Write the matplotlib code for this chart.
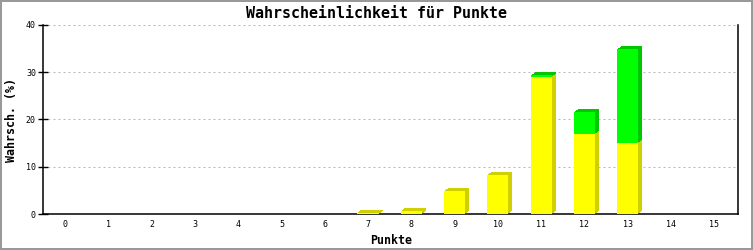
import numpy as np
import matplotlib
matplotlib.use('Agg')
import matplotlib.pyplot as plt
import matplotlib.transforms as mtrans

points = list(range(16))
yellow = [0, 0, 0, 0, 0, 0, 0, 0.3, 0.7, 4.9, 8.3, 29.0, 16.9, 15.0, 0, 0]
green = [0, 0, 0, 0, 0, 0, 0, 0, 0, 0, 0, 0.4, 4.7, 19.9, 0, 0]
yticks = [0, 10, 20, 30, 40]

MONO = 'DejaVu Sans Mono'

fig = plt.figure(figsize=(7.53, 2.5), dpi=100)
fig.patch.set_facecolor('white')
fig.patch.set_edgecolor('#999999')
fig.patch.set_linewidth(1.6)
ax = fig.add_axes([43 / 753, 1 - 214 / 250, (738.5 - 43) / 753, (214 - 25) / 250])

x = np.array(points)
yel = np.array(yellow)
grn = np.array(green)
w = 0.49

# 3D look: darker copies stepped right/up behind the front faces
for k in [4, 3, 2, 1]:
    shift = ax.transData + mtrans.ScaledTranslation(k / 100, 0.75 * k / 100, fig.dpi_scale_trans)
    ax.bar(x, yel, w, color='#d0d000', linewidth=0, transform=shift, zorder=2)
    ax.bar(x, grn, w, bottom=yel, color='#00c800', linewidth=0, transform=shift, zorder=2)
ax.bar(x, yel, w, color='#ffff00', linewidth=0, zorder=3)
ax.bar(x, grn, w, bottom=yel, color='#00ff00', linewidth=0, zorder=3)

ax.set_xlim(-0.51, 15.56)
ax.set_ylim(0, 40)
ax.set_xticks(points)
ax.set_xticklabels([str(p) for p in points], family=MONO, fontsize=6)
ax.set_yticks(yticks)
ax.set_yticklabels([str(t) for t in yticks], family=MONO, fontsize=6)
ax.tick_params(axis='x', length=0, pad=4)
ax.tick_params(axis='y', direction='inout', length=7.2, width=1, pad=1.5)

for t in yticks[1:]:
    ax.axhline(t, color='#b8b8b8', lw=0.75, dashes=(1.9, 2.9), zorder=1)

ax.spines['top'].set_visible(False)
for s in ['left', 'bottom', 'right']:
    ax.spines[s].set_linewidth(1.1)
    ax.spines[s].set_color('black')

fig.text(0.5, 1 - 14 / 250, 'Wahrscheinlichkeit für Punkte', family=MONO,
         fontweight='bold', fontsize=10.8, ha='center', va='center')
ax.set_xlabel('Punkte', family=MONO, fontweight='bold', fontsize=8.4, labelpad=4)
ax.set_ylabel('Wahrsch. (%)', family=MONO, fontweight='bold', fontsize=8.4, labelpad=6)

plt.savefig('out.png', dpi=100, facecolor='white', edgecolor='#999999')
plt.close()
